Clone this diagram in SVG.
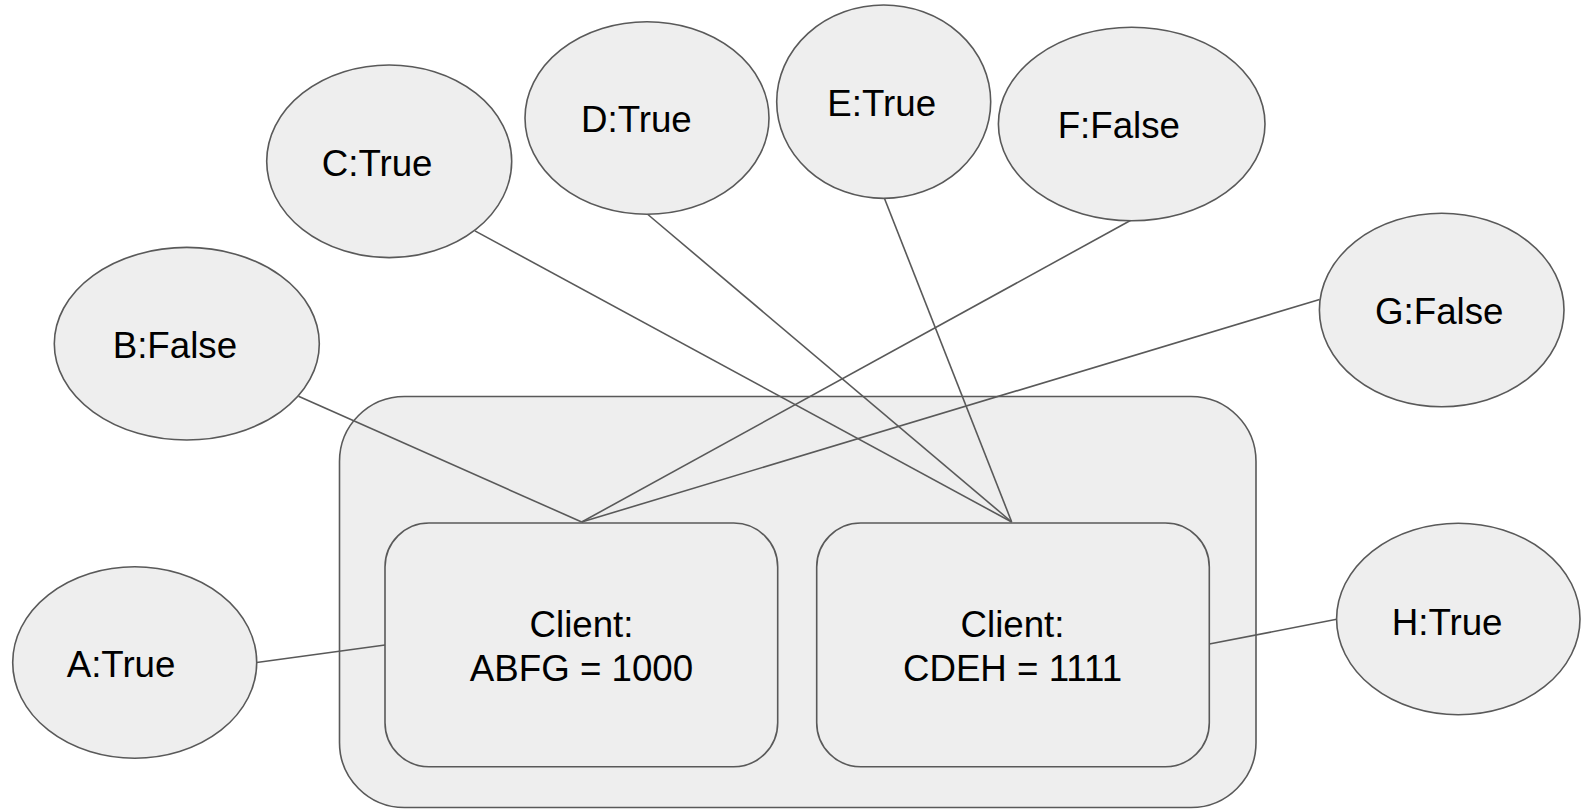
<svg xmlns="http://www.w3.org/2000/svg" width="1581" height="810" viewBox="0 0 1581 810">
<style>
.shape{fill:#eeeeee;stroke:#595959;stroke-width:1.6}
.conn line{stroke:#595959;stroke-width:1.6;fill:none}
text{font-family:"Liberation Sans",Arial,sans-serif;font-size:36.7px;fill:#000000}
.mid{text-anchor:middle}
</style>
<rect width="1581" height="810" fill="#ffffff"/>
<g id="container">
<rect class="shape" x="339.5" y="396.5" width="916.5" height="411" rx="65" ry="65"/>
</g>
<g id="client1">
<rect class="shape" x="385" y="523" width="392.7" height="243.7" rx="44" ry="44"/>
<text class="mid" x="581.5" y="636.7">Client:</text>
<text class="mid" x="581.5" y="681">ABFG = 1000</text>
</g>
<g id="client2">
<rect class="shape" x="816.7" y="523" width="392.6" height="243.7" rx="44" ry="44"/>
<text class="mid" x="1012.5" y="636.7">Client:</text>
<text class="mid" x="1012.5" y="681">CDEH = 1111</text>
</g>
<g id="connectors" class="conn">
<line x1="256.7" y1="662.5" x2="385" y2="645"/>
<line x1="1209.3" y1="644" x2="1336.7" y2="619.3"/>
<line x1="298.5" y1="396.3" x2="581.7" y2="522"/>
<line x1="1131.3" y1="220" x2="581.7" y2="522"/>
<line x1="1319.6" y1="299.5" x2="581.7" y2="522"/>
<line x1="474.9" y1="230.9" x2="1011.7" y2="522"/>
<line x1="647.3" y1="214" x2="1011.7" y2="522"/>
<line x1="884.3" y1="198" x2="1011.7" y2="522"/>
</g>
<g id="nodeA">
<ellipse class="shape" cx="134.7" cy="662.5" rx="122" ry="95.8"/>
<text x="66.7" y="676.7">A:True</text>
</g>
<g id="nodeB">
<ellipse class="shape" cx="186.8" cy="343.7" rx="132.5" ry="96.3"/>
<text x="112.7" y="358.3">B:False</text>
</g>
<g id="nodeC">
<ellipse class="shape" cx="389.2" cy="161.3" rx="122.5" ry="96.3"/>
<text x="321.7" y="175.7">C:True</text>
</g>
<g id="nodeD">
<ellipse class="shape" cx="647" cy="118" rx="122" ry="96.3"/>
<text x="581" y="131.7">D:True</text>
</g>
<g id="nodeE">
<ellipse class="shape" cx="883.7" cy="101.7" rx="107" ry="96.7"/>
<text x="827.3" y="116">E:True</text>
</g>
<g id="nodeF">
<ellipse class="shape" cx="1131.7" cy="124" rx="133.3" ry="96.7"/>
<text x="1057.7" y="138.3">F:False</text>
</g>
<g id="nodeG">
<ellipse class="shape" cx="1441.7" cy="310" rx="122.3" ry="96.7"/>
<text x="1375" y="324">G:False</text>
</g>
<g id="nodeH">
<ellipse class="shape" cx="1458.3" cy="619" rx="121.7" ry="95.8"/>
<text x="1391.7" y="635">H:True</text>
</g>
</svg>
